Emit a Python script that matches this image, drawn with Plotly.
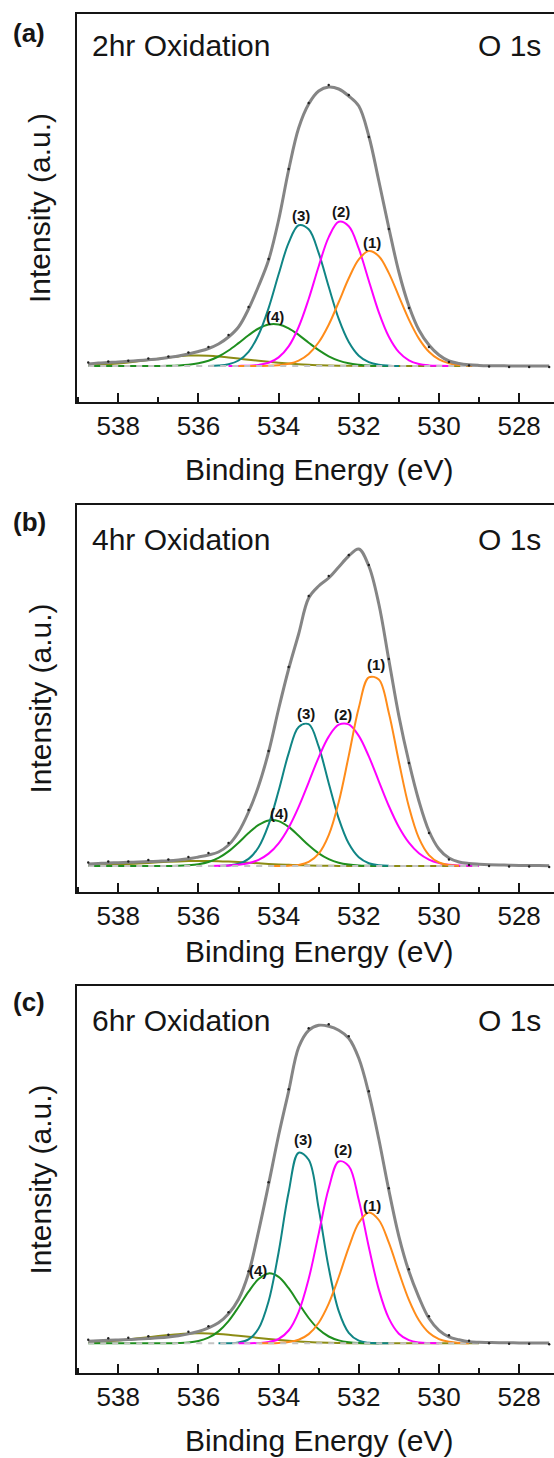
import plotly.graph_objects as go

W, H = 554, 1458

# ---------------- data ----------------
ENERGY = [538.75, 538.5, 538.25, 538.0, 537.75, 537.5, 537.25, 537.0, 536.75, 536.5,
          536.25, 536.0, 535.75, 535.5, 535.25, 535.0, 534.75, 534.5, 534.25, 534.0,
          533.75, 533.5, 533.25, 533.0, 532.75, 532.5, 532.25, 532.0, 531.75, 531.5,
          531.25, 531.0, 530.75, 530.5, 530.25, 530.0, 529.75, 529.5, 529.25, 529.0,
          528.75, 528.5, 528.25, 528.0, 527.75, 527.5, 527.25]

DOT_ENERGY = [538.75, 538.25, 537.75, 537.25, 536.75, 536.25, 535.75, 535.25, 534.75, 534.25,
              533.75, 533.25, 532.75, 532.25, 531.75, 531.25, 530.75, 530.25, 529.75, 529.25,
              528.75, 528.25, 527.75, 527.25]

BASELINE_E = [538.75, 529.0]
BASELINE_I = [0, 0]

TICK_VALUES = [538, 536, 534, 532, 530, 528]
TICK_LABELS = ["538", "536", "534", "532", "530", "528"]
MINOR_TICKS = [539, 537, 535, 533, 531, 529]

PANEL_TAGS = ["(a)", "(b)", "(c)"]
PANEL_TITLES = ["2hr Oxidation", "4hr Oxidation", "6hr Oxidation"]
CORE_LEVEL = "O 1s"
PEAK_NAMES = ["(1)", "(2)", "(3)", "(4)"]

# ---- panel (a): 2 hr ----
A_ENVELOPE = [2, 3, 3.5, 4, 4.7, 5.5, 6.2, 7, 8.5, 10,
              12, 14.5, 17.5, 22, 29, 39, 57, 80, 106, 146,
              196, 238, 262, 275, 279, 277, 270, 260, 230, 185,
              138, 94, 60, 36, 21, 11, 5, 2.5, 1.2, 0.6,
              0.3, 0.2, 0.1, 0, 0, 0, 0]
A_DATA = [3.5, 4.5, 5.2, 7.5, 9.5, 13.5, 19, 31, 59, 107, 197, 263,
          281, 271, 229, 137, 58, 19, 4, 0.5, -0.5, -1, -1, -1]
A_P1_FROM = 535.0
A_P1 = [0, 0, 0.1, 0.2, 0.8, 2.2, 5.4, 12.0, 23.7, 41.3, 64.0, 87.7, 106.6, 114.9,
        109.8, 92.9, 69.7, 46.4, 27.4, 14.3, 6.6, 2.7, 1.0, 0.3, 0.1]
A_P2_FROM = 535.25
A_P2 = [0, 0.1, 0.3, 1.1, 3.2, 8.6, 19.6, 39.0, 67.0, 99.8, 128.9, 144.2, 139.7,
        117.3, 85.3, 53.7, 29.3, 13.9, 5.7, 2.0, 0.6, 0.2, 0]
A_P3_FROM = 535.75
A_P3 = [0.1, 0.5, 1.8, 5.5, 14.2, 31.2, 57.9, 91.7, 123.2, 140.8, 136.7, 112.9,
        79.2, 47.1, 24.0, 10.3, 3.8, 1.2, 0.3, 0]
A_P4_FROM = 538.75
A_P4 = [0, 0, 0, 0, 0, 0, 0, 0.1, 0.2, 0.5, 1.2, 2.7, 5.3, 9.5, 15.5, 22.9, 30.8,
        37.5, 41.5, 41.5, 37.7, 31.1, 23.3, 15.8, 9.7, 5.4, 2.7, 1.3, 0.5, 0.2, 0.1, 0]
A_P5_FROM = 538.75
A_P5 = [0.5, 1, 1.7, 2.5, 3.5, 4.7, 6, 7.3, 8.5, 9.6, 10.4, 10.5, 10.2, 9.5, 8.5,
        7.4, 6.3, 5.2, 4.2, 3.3, 2.5, 1.8, 1.2, 0.8, 0.5, 0.3, 0.15, 0.05, 0, 0,
        0, 0, 0, 0, 0, 0, 0, 0, 0, 0]

# ---- panel (b): 4 hr ----
B_ENVELOPE = [2, 2.5, 3, 3.3, 3.7, 4, 4.4, 4.8, 5.2, 6.0,
              7.2, 9, 11, 14, 21, 34, 54, 80, 114, 157,
              197, 232, 268, 280, 288, 299, 310, 317, 300, 262,
              206, 150, 104, 65, 35, 17, 8, 4, 2.5, 1.8,
              1.3, 1.0, 0.8, 0.6, 0.5, 0.4, 0.3]
B_DATA = [3.5, 4.5, 4.5, 6, 6.5, 9, 13, 23, 56, 115, 199, 270,
          290, 311, 301, 207, 103, 33, 6.5, 1, 0, -0.5, -0.5, -1]
B_P1_FROM = 534.25
B_P1 = [0, 0.05, 0.3, 1.1, 4.1, 12.3, 30.8, 64.0, 110.4, 158.3, 188.6, 186.5,
        153.1, 104.4, 59.2, 27.8, 10.9, 3.5, 0.9, 0.2]
B_P2_FROM = 535.75
B_P2 = [0.05, 0.2, 0.5, 1.2, 2.8, 6.2, 12.4, 22.7, 38.3, 59.1, 83.7, 108.7, 129.4,
        141.3, 141.6, 130.1, 109.6, 84.7, 60.0, 39.0, 23.3, 12.7, 6.4, 2.9, 1.2,
        0.5, 0.2, 0.05]
B_P3_FROM = 535.5
B_P3 = [0.1, 0.6, 2.2, 7.1, 18.8, 41.4, 75.2, 112.6, 139.1, 141.8, 119.3, 82.8,
        47.4, 22.4, 8.7, 2.8, 0.7, 0.2]
B_P4_FROM = 538.75
B_P4 = [0, 0, 0, 0, 0, 0, 0, 0, 0.1, 0.2, 0.7, 1.8, 4.0, 8.1, 14.6, 23.3, 32.9,
        41.1, 45.6, 44.9, 39.1, 30.2, 20.7, 12.6, 6.8, 3.2, 1.4, 0.5, 0.2, 0.05, 0]
B_P5_FROM = 538.75
B_P5 = [0.3, 0.6, 1.0, 1.4, 1.9, 2.5, 3.1, 3.7, 4.2, 4.6, 4.9, 5.0, 5.0, 4.8, 4.4,
        3.9, 3.3, 2.7, 2.1, 1.6, 1.2, 0.8, 0.5, 0.3, 0.2, 0.1, 0.05, 0, 0, 0,
        0, 0, 0, 0, 0, 0, 0, 0, 0, 0]

# ---- panel (c): 6 hr ----
C_ENVELOPE = [2, 2.5, 3, 3.4, 3.8, 4.2, 4.8, 5.5, 6.4, 7.6,
              9.4, 11.8, 15.5, 20.5, 29.5, 44, 70, 112, 159, 208,
              252, 296, 313, 318, 317, 313, 305, 285, 250, 204,
              153, 107, 72, 46, 25, 13, 6.5, 3.5, 1.5, 1.0,
              0.8, 0.6, 0.5, 0.4, 0.3, 0.2, 0.2]
C_DATA = [3.5, 5, 5.5, 7, 8.5, 11.5, 17, 31, 72, 161, 254, 315,
          319, 307, 252, 155, 74, 27, 8, 2.5, 0, -0.5, -0.5, -1]
C_P1_FROM = 534.5
C_P1 = [0, 0.1, 0.4, 1.2, 3.6, 9.2, 20.6, 39.7, 66.3, 96.0, 120.5, 130.9, 123.3,
        100.6, 71.1, 43.5, 23.1, 10.6, 4.2, 1.5, 0.4, 0.1]
C_P2_FROM = 535.0
C_P2 = [0, 0.05, 0.3, 1.2, 4.3, 12.8, 31.5, 64.5, 109.7, 155.0, 181.8, 177.1,
        143.3, 96.3, 53.7, 24.9, 9.6, 3.1, 0.8, 0.2, 0]
C_P3_FROM = 535.5
C_P3 = [0, 0.1, 0.8, 3.9, 14.7, 42.0, 91.1, 151.0, 190.6, 183.5, 134.7, 75.4,
        32.2, 10.5, 2.6, 0.5, 0.1, 0]
C_P4_FROM = 538.75
C_P4 = [0, 0, 0, 0, 0, 0, 0, 0, 0.07, 0.3, 0.8, 2.3, 5.6, 11.9, 22.2, 36.3, 51.7,
        64.3, 69.9, 66.4, 55.1, 40.0, 25.3, 14.0, 6.8, 2.9, 1.1, 0.3, 0.1, 0]
C_P5_FROM = 538.75
C_P5 = [0.5, 1.2, 2.0, 2.9, 3.9, 5.0, 6.1, 7.2, 8.2, 9.1, 9.7, 10.0, 9.9, 9.4, 8.6,
        7.6, 6.5, 5.4, 4.3, 3.3, 2.5, 1.8, 1.2, 0.8, 0.5, 0.3, 0.15, 0.05, 0, 0,
        0, 0, 0, 0, 0, 0, 0, 0, 0, 0]

# ---------------- style / layout ----------------
FONT = "Liberation Sans, Arial, Helvetica, sans-serif"
INK = "#151515"
COL = {"p1": "#ff8c1a", "p2": "#ff00ff", "p3": "#108585", "p4": "#1f8f1f",
       "p5": "#8c8c14", "env": "#858585", "base": "#c4c4c4", "dot": "#222222"}

PANELS = [
    dict(env=A_ENVELOPE, dots=A_DATA,
         comps=[(A_P5_FROM, A_P5, "p5"), (A_P4_FROM, A_P4, "p4"), (A_P3_FROM, A_P3, "p3"),
                (A_P2_FROM, A_P2, "p2"), (A_P1_FROM, A_P1, "p1")],
         top=14, bottom=402, base=366, tag_y=32.7, title_y=45.3, xtitle_y=469.5,
         labels=[(531.68, 123.3), (532.45, 154.3), (533.43, 151.0), (534.09, 49.3)]),
    dict(env=B_ENVELOPE, dots=B_DATA,
         comps=[(B_P5_FROM, B_P5, "p5"), (B_P4_FROM, B_P4, "p4"), (B_P3_FROM, B_P3, "p3"),
                (B_P2_FROM, B_P2, "p2"), (B_P1_FROM, B_P1, "p1")],
         top=505, bottom=892, base=866, tag_y=521.7, title_y=539, xtitle_y=951,
         labels=[(531.58, 202.0), (532.40, 152.0), (533.32, 152.7), (533.99, 52.7)]),
    dict(env=C_ENVELOPE, dots=C_DATA,
         comps=[(C_P5_FROM, C_P5, "p5"), (C_P4_FROM, C_P4, "p4"), (C_P3_FROM, C_P3, "p3"),
                (C_P2_FROM, C_P2, "p2"), (C_P1_FROM, C_P1, "p1")],
         top=986, bottom=1373, base=1343.3, tag_y=1002, title_y=1020, xtitle_y=1440,
         labels=[(531.68, 138.3), (532.39, 194.3), (533.40, 204.3), (534.51, 73.3)]),
]

X_LEFT_PX = 77
X_RANGE = [539.03, 527.13]

fig = go.Figure()
annotations = []
layout_axes = {}

for i, p in enumerate(PANELS):
    n = "" if i == 0 else str(i + 1)
    xa, ya = "x" + n, "y" + n

    for start, vals, key in p["comps"]:
        i0 = ENERGY.index(start)
        fig.add_trace(go.Scatter(x=ENERGY[i0:i0 + len(vals)], y=vals, mode="lines",
                                 line=dict(color=COL[key], width=2, shape="spline"),
                                 xaxis=xa, yaxis=ya, hoverinfo="skip"))
    fig.add_trace(go.Scatter(x=BASELINE_E, y=BASELINE_I, mode="lines",
                             line=dict(color=COL["base"], width=2, dash="6px,6px"),
                             xaxis=xa, yaxis=ya, hoverinfo="skip"))
    fig.add_trace(go.Scatter(x=ENERGY, y=p["env"], mode="lines",
                             line=dict(color=COL["env"], width=3, shape="spline"),
                             xaxis=xa, yaxis=ya, hoverinfo="skip"))
    fig.add_trace(go.Scatter(x=DOT_ENERGY, y=p["dots"], mode="markers",
                             marker=dict(color=COL["dot"], size=2.4),
                             xaxis=xa, yaxis=ya, hoverinfo="skip"))

    ydom = [1 - p["bottom"] / H, 1 - p["top"] / H]
    yr = [-(p["bottom"] - p["base"]), p["base"] - p["top"]]
    layout_axes["xaxis" + n] = dict(
        domain=[X_LEFT_PX / W, 1], range=X_RANGE, anchor=ya,
        showline=True, linewidth=2, linecolor=INK, mirror=True,
        ticks="inside", ticklen=9, tickwidth=2, tickcolor=INK,
        tickvals=TICK_VALUES, ticktext=TICK_LABELS, ticklabelstandoff=0,
        tickfont=dict(family=FONT, size=26, color=INK),
        minor=dict(tickvals=MINOR_TICKS, ticks="inside", ticklen=5, tickwidth=2,
                   tickcolor=INK, showgrid=False),
        showgrid=False, zeroline=False, fixedrange=True)
    layout_axes["yaxis" + n] = dict(
        domain=ydom, range=yr, anchor=xa,
        showline=True, linewidth=2, linecolor=INK, mirror=False,
        ticks="", showticklabels=False, showgrid=False, zeroline=False, fixedrange=True)

    annotations.append(dict(text="<b>" + PANEL_TAGS[i] + "</b>", x=29 / W, y=1 - p["tag_y"] / H,
                            xref="paper", yref="paper", showarrow=False,
                            font=dict(family=FONT, size=26, color=INK),
                            xanchor="center", yanchor="middle"))
    annotations.append(dict(text=PANEL_TITLES[i], x=90 / W, y=1 - p["title_y"] / H,
                            xref="paper", yref="paper", showarrow=False,
                            font=dict(family=FONT, size=30, color=INK),
                            xanchor="left", yanchor="middle"))
    annotations.append(dict(text=CORE_LEVEL, x=476 / W, y=1 - p["title_y"] / H,
                            xref="paper", yref="paper", showarrow=False,
                            font=dict(family=FONT, size=30, color=INK),
                            xanchor="left", yanchor="middle"))
    annotations.append(dict(text="Binding Energy (eV)", x=319 / W, y=1 - p["xtitle_y"] / H,
                            xref="paper", yref="paper", showarrow=False,
                            font=dict(family=FONT, size=30, color=INK),
                            xanchor="center", yanchor="middle"))
    annotations.append(dict(text="Intensity (a.u.)", x=40 / W,
                            y=1 - (p["top"] + p["bottom"]) / 2 / H,
                            xref="paper", yref="paper", showarrow=False, textangle=-90,
                            font=dict(family=FONT, size=30, color=INK),
                            xanchor="center", yanchor="middle"))
    for name, (ex, iy) in zip(PEAK_NAMES, p["labels"]):
        annotations.append(dict(text="<b>" + name + "</b>", x=ex, y=iy, xref=xa, yref=ya,
                                showarrow=False, font=dict(family=FONT, size=15, color=INK),
                                xanchor="center", yanchor="middle"))

fig.update_layout(width=W, height=H, margin=dict(l=0, r=0, t=0, b=0),
                  paper_bgcolor="white", plot_bgcolor="white", showlegend=False,
                  annotations=annotations, **layout_axes)

fig.write_html("out.html",
               config={"displayModeBar": False, "staticPlot": True},
               post_script="document.body.style.margin='0px';"
                           "document.body.style.overflow='hidden';")
